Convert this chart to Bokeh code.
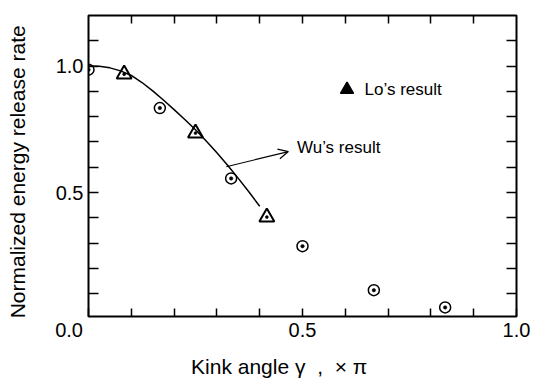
from bokeh.plotting import figure
from bokeh.models import (Range1d, FixedTicker, LinearAxis, Label, Arrow, OpenHead,
                          PrintfTickFormatter, CustomJSTickFormatter)
from bokeh.embed import file_html
from bokeh.resources import INLINE

# Wu's result (circles with dot)
circ_x = [0.0, 0.1667, 0.3333, 0.5, 0.6667, 0.8333]
circ_y = [0.986, 0.834, 0.556, 0.288, 0.114, 0.046]
# Lo's result (triangles)
tri_x = [0.0833, 0.25, 0.4167]
tri_y = [0.968, 0.735, 0.403]
# fitted curve
curve_x = [0.0, 0.025, 0.05, 0.075, 0.1, 0.125, 0.15, 0.175, 0.2, 0.225,
           0.25, 0.275, 0.3, 0.325, 0.35, 0.375, 0.4]
curve_y = [1.0, 0.999, 0.993, 0.981, 0.963, 0.935, 0.902, 0.866, 0.828, 0.789,
           0.748, 0.704, 0.657, 0.608, 0.556, 0.502, 0.446]
# ticks
x_major = [0.0, 0.5, 1.0]
x_minor = [0.1, 0.2, 0.3, 0.4, 0.6, 0.7, 0.8, 0.9]
x_all = [0.1, 0.2, 0.3, 0.4, 0.5, 0.6, 0.7, 0.8, 0.9]
y_major = [0.5, 1.0]
y_minor = [0.1, 0.2, 0.3, 0.4, 0.6, 0.7, 0.8, 0.9, 1.1]
y_all = [0.1, 0.2, 0.3, 0.4, 0.5, 0.6, 0.7, 0.8, 0.9, 1.0, 1.1]

FONT = "Liberation Sans"
W, H = 533, 380
NB = "\u00a0"

p = figure(width=W, height=H, output_backend="svg", toolbar_location=None,
           x_range=Range1d(0, 1), y_range=Range1d(0.01, 1.2),
           min_border_left=88, min_border_right=17, min_border_top=15,
           min_border_bottom=64)
p.grid.visible = False
p.background_fill_color = "white"
p.border_fill_color = "white"
p.outline_line_color = "black"
p.outline_line_width = 2

def style_axis(ax, tick_len):
    ax.axis_line_color = None
    ax.major_tick_in = tick_len
    ax.major_tick_out = 0
    ax.minor_tick_in = tick_len
    ax.minor_tick_out = 0
    ax.major_tick_line_width = 1.5
    ax.minor_tick_line_width = 1.5
    ax.major_tick_line_color = "black"
    ax.minor_tick_line_color = "black"
    ax.major_label_text_font = FONT
    ax.major_label_text_color = "black"
    ax.major_label_text_font_size = "20px"
    ax.formatter = PrintfTickFormatter(format="%.1f")

p.xaxis.ticker = FixedTicker(ticks=x_major, minor_ticks=x_minor)
p.yaxis.ticker = FixedTicker(ticks=y_major, minor_ticks=y_minor)
style_axis(p.xaxis[0], 8)
style_axis(p.yaxis[0], 10)
# the shared origin label "0.0" sits left of the corner, as in the original
p.xaxis.formatter = CustomJSTickFormatter(
    code="return tick == 0 ? '0.0' + '\\u00a0'.repeat(7) : tick.toFixed(1);")
p.xaxis.major_label_standoff = 2
p.yaxis.major_label_standoff = 5

p.yaxis.axis_label = "Normalized energy release rate" + NB * 2
p.yaxis.axis_label_text_font = FONT
p.yaxis.axis_label_text_font_style = "normal"
p.yaxis.axis_label_text_font_size = "21px"
p.yaxis.axis_label_text_color = "black"
p.yaxis.axis_label_standoff = 24

p.xaxis.axis_label = ("Kink angle \u03b3" + NB * 2 + "," + NB * 2 + "\u00d7 \u03c0"
                      + NB * 8)
p.xaxis.axis_label_text_font = FONT
p.xaxis.axis_label_text_font_style = "normal"
p.xaxis.axis_label_text_font_size = "21px"
p.xaxis.axis_label_text_color = "black"
p.xaxis.axis_label_standoff = 11

# top and right: ticks only (all as minor ticks, so no labels)
top = LinearAxis(ticker=FixedTicker(ticks=[], minor_ticks=x_all))
style_axis(top, 8)
top.major_label_standoff = 0
p.add_layout(top, "above")
right = LinearAxis(ticker=FixedTicker(ticks=[], minor_ticks=y_all))
style_axis(right, 10)
right.major_label_standoff = 0
p.add_layout(right, "right")

# curve
p.line(curve_x, curve_y, line_color="black", line_width=1.5)

# Wu's points
p.scatter(circ_x, circ_y, marker="circle", size=11, fill_color=None,
          line_color="black", line_width=1.5)
p.scatter(circ_x, circ_y, marker="circle", size=3.5, fill_color="black",
          line_color="black", line_width=0.5)

# Lo's points
p.scatter(tri_x, tri_y, marker="triangle", size=15, fill_color=None,
          line_color="black", line_width=2)
p.scatter(tri_x, tri_y, marker="circle", size=3, fill_color="black",
          line_color="black", line_width=0.5)

# legend marker
p.scatter([0.604], [0.907], marker="triangle", size=13, fill_color="black",
          line_color="black", line_width=1.5)
p.add_layout(Label(x=0.645, y=0.907, text="Lo\u2019s result", text_font=FONT,
                   text_font_size="17px", text_baseline="middle",
                   text_color="black"))

# Wu's annotation arrow
p.add_layout(Arrow(end=OpenHead(size=10, line_width=1.2, line_color="black"),
                   x_start=0.322, y_start=0.602, x_end=0.467, y_end=0.662,
                   line_width=1.2, line_color="black"))
p.add_layout(Label(x=0.487, y=0.68, text="Wu\u2019s result", text_font=FONT,
                   text_font_size="17px", text_baseline="middle",
                   text_color="black"))

open("out.html", "w").write(file_html(p, INLINE))
